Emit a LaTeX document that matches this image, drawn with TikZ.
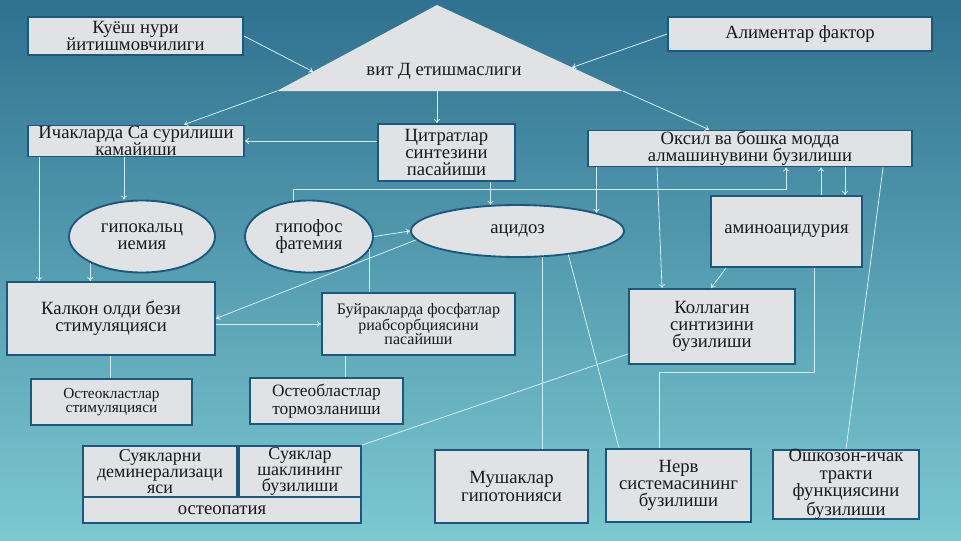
\documentclass[tikz,border=0pt]{standalone}
\usepackage{fontspec}
\setmainfont{Liberation Serif}
\usetikzlibrary{arrows.meta,calc,shapes.geometric}

\definecolor{bgtop}{HTML}{2F7190}
\definecolor{bgbot}{HTML}{7CC9D1}
\definecolor{boxfill}{HTML}{E1E2E4}
\definecolor{boxline}{HTML}{1B5880}
\definecolor{conncol}{HTML}{D0EEF4}
\newcommand{\px}{0.75pt}

\begin{document}
\begin{tikzpicture}[x=0.75pt,y=-0.75pt,>={To[length=3pt,width=4.5pt]}]
	\tikzstyle{box}=[draw=boxline, line width=1.4pt, fill=boxfill, inner sep=0pt, align=center, text=black!90, font=\fontsize{14}{13}\selectfont]
	\tikzstyle{oval}=[box, ellipse]
	\tikzstyle{smalltxt}=[font=\fontsize{12}{10.8}\selectfont]
	\tikzstyle{conn}=[draw=conncol, line width=0.6pt]

	% background
	\shade [top color=bgtop, bottom color=bgbot] (0,0) rectangle (961,540);

	% vit D triangle
	\coordinate (triA) at (437,5);
	\coordinate (triL) at (277,91);
	\coordinate (triR) at (623,91);
	\fill [boxfill] (triA) -- (triL) -- (triR) -- cycle;
	\node (vitd) [text=black!90, font=\fontsize{14}{13}\selectfont] at (444,71) {вит Д етишмаслиги};

	% top row
	\node (kuyosh) [box, minimum width=215*\px, minimum height=38*\px] at (135.5,36) {Куёш нури\\йитишмовчилиги};
	\node (alim) [box, minimum width=264*\px, minimum height=34*\px] at (800,34) {Алиментар фактор};

	% second row
	\node (ichak) [box, minimum width=216*\px, minimum height=31*\px] at (136,141) {Ичакларда Са сурилиши\\камайиши};
	\node (sitrat) [box, minimum width=137*\px, minimum height=57*\px] at (446.5,152.5) {Цитратлар\\синтезини\\пасайиши};
	\node (oqsil) [box, minimum width=324*\px, minimum height=36*\px] at (750,148.5) {Оксил ва бошка модда\\алмашинувини бузилиши};

	% ellipses
	\node (gipok) [oval, minimum width=146*\px, minimum height=72*\px] at (142,236.5) {гипокальц\\иемия};
	\node (gipof) [oval, minimum width=128*\px, minimum height=72*\px] at (309,236.5) {гипофос\\фатемия};
	\node (atsid) [oval, minimum width=213*\px, minimum height=52*\px] at (517.5,231) {ацидоз};
	\node (amino) [box, minimum width=151*\px, minimum height=71*\px] at (786.5,231.5) {аминоацидурия};

	% middle row
	\node (kalkon) [box, minimum width=208*\px, minimum height=73*\px] at (111,318.5) {Калкон олди бези\\стимуляцияси};
	\node (buyrak) [box, smalltxt, minimum width=193*\px, minimum height=62*\px] at (418.5,324) {Буйракларда фосфатлар\\риабсорбциясини\\пасайиши};
	\node (koll) [box, minimum width=166*\px, minimum height=75*\px] at (712,326.5) {Коллагин\\синтизини\\бузилиши};

	\node (osteok) [box, font=\fontsize{11.5}{10.5}\selectfont, minimum width=161*\px, minimum height=46*\px] at (111.5,402) {Остеокластлар\\стимуляцияси};
	\node (osteob) [box, font=\fontsize{13}{13}\selectfont, minimum width=153*\px, minimum height=46*\px] at (326.5,401) {Остеобластлар\\тормозланиши};

	% bottom row
	\node (osteop) [box, minimum width=278*\px, minimum height=26*\px] at (222,510) {остеопатия};
	\node (suyak) [box, font=\fontsize{13.5}{12}\selectfont, minimum width=154*\px, minimum height=51*\px] at (160,471.5) {Суякларни\\деминерализаци\\яси};
	\node (shakl) [box, font=\fontsize{13.5}{12}\selectfont, minimum width=122*\px, minimum height=51*\px] at (300,471.5) {Суяклар\\шаклининг\\бузилиши};
	\node (mush) [box, minimum width=153*\px, minimum height=73*\px] at (511.5,486.5) {Мушаклар\\гипотонияси};
	\node (nerv) [box, minimum width=145*\px, minimum height=73*\px] at (678.5,485.5) {Нерв\\системасининг\\бузилиши};
	\node (oshq) [box, minimum width=146*\px, minimum height=69*\px] at (846,484.5) {Ошкозон-ичак\\тракти\\функциясини\\бузилиши};

	% connectors from the top
	\draw [conn,->] (kuyosh.east) -- ($(triL)!0.225!(triA)$);
	\draw [conn,->] (alim.west) -- ($(triR)!0.274!(triA)$);
	\draw [conn,->] (triL) -- ($(ichak.north west)+(157,0)$);
	\draw [conn,->] (triA |- triL) -- (triA |- sitrat.north);
	\draw [conn,->] (triR) -- ($(oqsil.north west)+(122,0)$);
	\draw [conn,->] (ichak.east -| sitrat.west) -- (ichak.east);

	\coordinate (g1) at ($(ichak.south west)+(97,0)$);
	\draw [conn,->] (g1) -- (g1 |- gipok.north);
	\coordinate (g2) at ($(ichak.south west)+(12,0)$);
	\draw [conn,->] (g2) -- (g2 |- kalkon.north);
	\draw [conn,->] (gipok.207) -- (gipok.207 |- kalkon.north);

	\coordinate (jT) at ($(oqsil.south west)+(199,22)$);
	\draw [conn,->] (gipof.113) |- (jT) -- (jT |- oqsil.south);
	\draw [conn,->] (atsid.136 |- sitrat.south) -- (atsid.136);
	\draw [conn,->] (atsid.13 |- oqsil.south) -- (atsid.13);

	\coordinate (m1) at ($(amino.north west)+(111,0)$);
	\coordinate (m2) at ($(amino.north west)+(135,0)$);
	\draw [conn,->] (m1) -- (m1 |- oqsil.south);
	\draw [conn,->] (m2 |- oqsil.south) -- (m2);
	\draw [conn,->] ($(oqsil.south west)+(70,0)$) -- ($(koll.north west)+(34,0)$);
	\draw [conn,->] ($(amino.south west)+(16,0)$) -- ($(koll.north west)+(83,0)$);
	\draw [conn] ($(oqsil.south west)+(296,0)$) -- ($(oshq.north west)+(74,0)$);

	% middle connectors
	\draw [conn,->] (gipof.east) -- (atsid.west);
	\draw [conn,->] (atsid.185) -- (kalkon.east);
	\draw [conn,->] (kalkon.east |- buyrak.west) -- (buyrak.west);
	\draw [conn] (gipof.-12) -- (gipof.-12 |- buyrak.north);
	\coordinate (u1) at ($(buyrak.south west)+(24,0)$);
	\draw [conn] (u1) -- (u1 |- osteob.north);
	\coordinate (v1) at ($(kalkon.south west)+(104,0)$);
	\draw [conn] (v1) -- (v1 |- osteok.north);

	% lower connectors
	\draw [conn] (atsid.-47) -- (atsid.-47 |- mush.north);
	\draw [conn] (atsid.-25) -- ($(nerv.north west)+(14,0)$);
	\draw [conn] ($(koll.south west)+(0,-11)$) -- (shakl.north east);
	\coordinate (z1) at ($(amino.south west)+(104,0)$);
	\coordinate (z2) at ($(nerv.north west)+(54,-76)$);
	\draw [conn] (z1) |- (z2) -- (z2 |- nerv.north);
\end{tikzpicture}
\end{document}
